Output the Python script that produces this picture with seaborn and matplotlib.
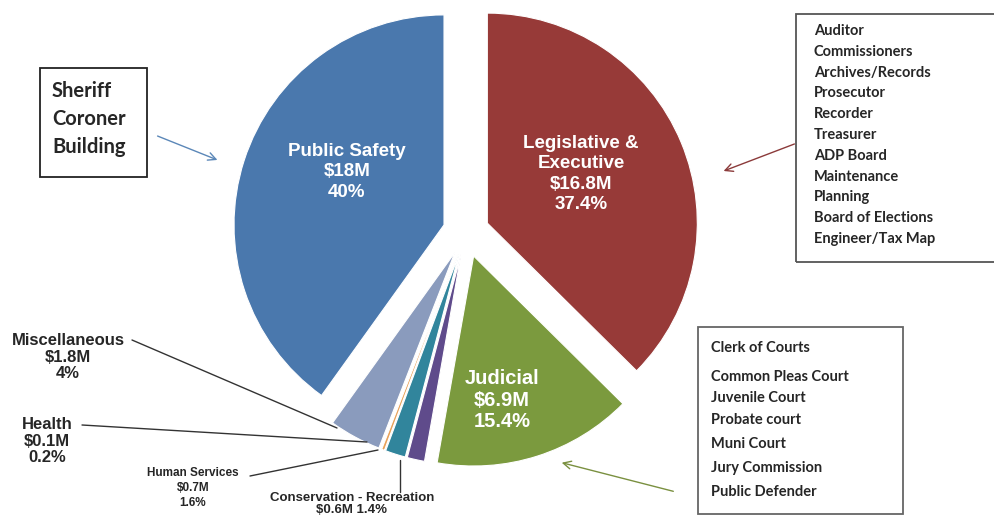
import matplotlib
matplotlib.use("Agg")
import matplotlib.pyplot as plt
import seaborn as sns
from matplotlib.patches import Rectangle

# --- data ---
departments = ["Legislative & Executive", "Judicial", "Conservation - Recreation",
               "Human Services", "Health", "Miscellaneous", "Public Safety"]
budget_musd = [16.8, 6.9, 0.6, 0.7, 0.1, 1.8, 18.0]
budget_pct = [37.4, 15.4, 1.4, 1.6, 0.2, 4.0, 40.0]
slice_colors = ["#973a38", "#7b9a3e", "#5f4b8b", "#31859c", "#e8a25a", "#8a9bbd", "#4a78ad"]
explode = [0.11, 0.12, 0.11, 0.11, 0.11, 0.11, 0.11]

legislative_offices = ["Auditor", "Commissioners", "Archives/Records", "Prosecutor", "Recorder",
                       "Treasurer", "ADP Board", "Maintenance", "Planning",
                       "Board of Elections", "Engineer/Tax Map"]
judicial_offices = ["Clerk of Courts", "Common Pleas Court", "Juvenile Court", "Probate court",
                    "Muni Court", "Jury Commission", "Public Defender"]
safety_offices = ["Sheriff", "Coroner", "Building"]

W, H = 995, 517
R = 210.0          # pie radius in pixels
CX, CY = 466, 232  # pie centre in pixels (from top-left)

sns.set_style("white")
plt.rcParams["font.family"] = ["Liberation Sans", "DejaVu Sans"]


def fp(x, y):
    """pixel (from top-left) -> figure fraction"""
    return (x / W, 1 - y / H)


fig = plt.figure(figsize=(W / 100, H / 100), dpi=100)
ax = fig.add_axes([0, 0, 1, 1])
ax.pie(budget_musd, explode=explode, colors=slice_colors, startangle=90, counterclock=False,
       wedgeprops=dict(edgecolor="white", linewidth=0.8))
ax.set_aspect("auto")
ax.set_xlim(-CX / R, (W - CX) / R)
ax.set_ylim(-(H - CY) / R, CY / R)
ax.axis("off")

fmt = lambda i: f"${budget_musd[i]:g}M"

# --- labels inside slices ---
fig.text(*fp(347, 172), f"Public Safety\n{fmt(6)}\n{budget_pct[6]:g}%", color="white",
         fontsize=13.5, fontweight="bold", ha="center", va="center", linespacing=1.3)
fig.text(*fp(581, 174), f"Legislative &\nExecutive\n{fmt(0)}\n{budget_pct[0]:g}%", color="white",
         fontsize=13.5, fontweight="bold", ha="center", va="center", linespacing=1.25)
fig.text(*fp(502, 400), f"Judicial\n{fmt(1)}\n{budget_pct[1]:g}%", color="white",
         fontsize=14.5, fontweight="bold", ha="center", va="center", linespacing=1.15)

# --- outside labels with leader lines ---
line_kw = dict(color="#333333", lw=1.0)
fig.text(*fp(68, 357), f"Miscellaneous\n{fmt(5)}\n{budget_pct[5]:g}%", fontsize=12,
         fontweight="bold", ha="center", va="center", linespacing=1.15)
fig.add_artist(plt.Line2D([132 / W, 337 / W], [1 - 340 / H, 1 - 428 / H],
                          transform=fig.transFigure, **line_kw))
fig.text(*fp(47, 441), f"Health\n{fmt(4)}\n{budget_pct[4]:g}%", fontsize=12,
         fontweight="bold", ha="center", va="center", linespacing=1.15)
fig.add_artist(plt.Line2D([82 / W, 367 / W], [1 - 425 / H, 1 - 442 / H],
                          transform=fig.transFigure, **line_kw))
fig.text(*fp(193, 488), f"Human Services\n{fmt(3)}\n{budget_pct[3]:g}%", fontsize=8.5,
         fontweight="bold", ha="center", va="center", linespacing=1.3)
fig.add_artist(plt.Line2D([250 / W, 378 / W], [1 - 476 / H, 1 - 450 / H],
                          transform=fig.transFigure, **line_kw))
fig.text(*fp(352, 504), f"Conservation - Recreation\n{fmt(2)} {budget_pct[2]:g}%", fontsize=9.5,
         fontweight="bold", ha="center", va="center", linespacing=1.1)
fig.add_artist(plt.Line2D([400 / W, 400 / W], [1 - 460 / H, 1 - 492 / H],
                          transform=fig.transFigure, **line_kw))

# --- note boxes ---
box_font = ["Lato", "DejaVu Sans"]


def note_box(left, top, right, bottom, edge):
    fig.add_artist(Rectangle(fp(left, bottom), (right - left) / W, (bottom - top) / H,
                             transform=fig.transFigure, fill=False, edgecolor=edge, lw=1.3))


note_box(40, 68, 147, 177, "#222222")
for i, name in enumerate(safety_offices):
    fig.text(*fp(52, 91 + i * 28), name, fontsize=14.5, fontweight="bold", family=box_font,
             va="center", ha="left")

note_box(796, 14, 996, 262, "#555555")
for i, name in enumerate(legislative_offices):
    fig.text(*fp(814, 31 + i * 20.8), name, fontsize=10.5, fontweight="bold", family=box_font,
             va="center", ha="left")

note_box(698, 327, 903, 514, "#666666")
jud_y = [348, 377, 398, 420, 444, 468, 492]
for name, y in zip(judicial_offices, jud_y):
    fig.text(*fp(711, y), name, fontsize=10.5, fontweight="bold", family=box_font,
             va="center", ha="left")

# --- arrows from boxes to slices ---
arrows = [((155, 135), (220, 161), "#5b87b8"),
          ((797, 143), (721, 172), "#8b3a3a"),
          ((676, 492), (559, 462), "#7a9040")]
for (x0, y0), (x1, y1), c in arrows:
    ax.annotate("", xy=fp(x1, y1), xytext=fp(x0, y0), xycoords="figure fraction",
                textcoords="figure fraction",
                arrowprops=dict(arrowstyle="->", color=c, lw=1.0, mutation_scale=14))

fig.savefig("out.png", dpi=100)
